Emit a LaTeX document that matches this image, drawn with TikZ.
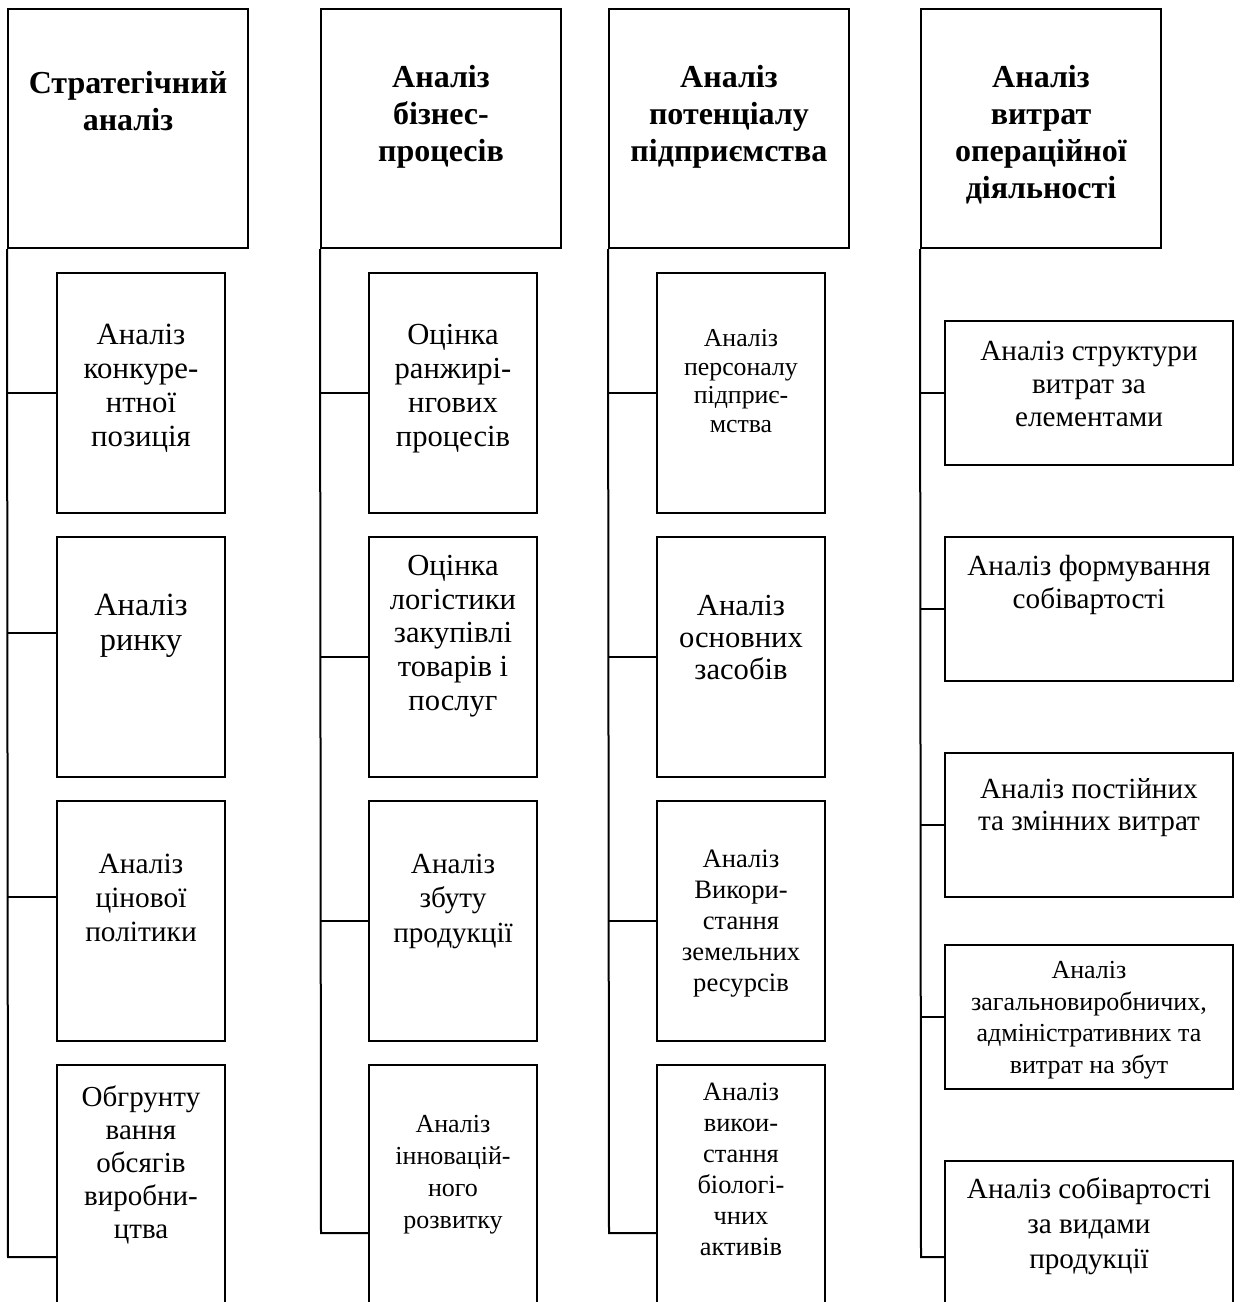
\documentclass[tikz,border=0pt]{standalone}
\usepackage{fontspec}
\setmainfont{Liberation Serif}

\tikzset{every picture/.style={line width=1pt}}
\tikzset{
  headbox/.style={draw, inner sep=0pt, minimum width=120pt, minimum height=119.5pt},
  subbox/.style={draw, inner sep=0pt, minimum width=84pt, minimum height=120pt},
  widebox/.style={draw, inner sep=0pt, minimum width=144pt, minimum height=72pt},
  lbl/.style={anchor=base, align=center, inner sep=0pt},
  headfont/.style={font=\fontsize{16}{18.5}\selectfont\bfseries},
}

\begin{document}
\begin{tikzpicture}[x=0.5pt,y=0.5pt,yscale=-1,xscale=1]
\useasboundingbox (0,0) rectangle (1240,1302);
\clip (0,0) rectangle (1240,1302);

%Shape: Rectangle [head boxes]
\node [headbox] (h1) at (128,128.5) {};
\node [headbox] (h2) at (441,128.5) {};
\node [headbox] (h3) at (729,128.5) {};
\node [headbox] (h4) at (1041,128.5) {};

%Shape: Rectangle [column 1]
\node [subbox] (b11) at (141,393) {};
\node [subbox] (b12) at (141,657) {};
\node [subbox] (b13) at (141,921) {};
\node [subbox] (b14) at (141,1185) {};
%Shape: Rectangle [column 2]
\node [subbox] (b21) at (453,393) {};
\node [subbox] (b22) at (453,657) {};
\node [subbox] (b23) at (453,921) {};
\node [subbox] (b24) at (453,1185) {};
%Shape: Rectangle [column 3]
\node [subbox] (b31) at (741,393) {};
\node [subbox] (b32) at (741,657) {};
\node [subbox] (b33) at (741,921) {};
\node [subbox] (b34) at (741,1185) {};
%Shape: Rectangle [column 4]
\node [widebox] (b41) at (1089,393) {};
\node [widebox] (b42) at (1089,609) {};
\node [widebox] (b43) at (1089,825) {};
\node [widebox] (b44) at (1089,1017) {};
\node [widebox] (b45) at (1089,1233) {};

%Straight Lines [column 1]
\coordinate (k11) at (8,393);
\coordinate (k12) at (8,633);
\coordinate (k13) at (8,897);
\coordinate (k14) at (8,1257);
\draw (h1.south west) -- (k14) -- (k14 -| b14.west) ;
\draw (k11) -- (k11 -| b11.west) ;
\draw (k12) -- (k12 -| b12.west) ;
\draw (k13) -- (k13 -| b13.west) ;
%Straight Lines [column 2]
\coordinate (k21) at (321,393);
\coordinate (k22) at (321,657);
\coordinate (k23) at (321,921);
\coordinate (k24) at (321,1233);
\draw (h2.south west) -- (k24) -- (k24 -| b24.west) ;
\draw (k21) -- (k21 -| b21.west) ;
\draw (k22) -- (k22 -| b22.west) ;
\draw (k23) -- (k23 -| b23.west) ;
%Straight Lines [column 3]
\coordinate (k31) at (609,393);
\coordinate (k32) at (609,657);
\coordinate (k33) at (609,921);
\coordinate (k34) at (609,1233);
\draw (h3.south west) -- (k34) -- (k34 -| b34.west) ;
\draw (k31) -- (k31 -| b31.west) ;
\draw (k32) -- (k32 -| b32.west) ;
\draw (k33) -- (k33 -| b33.west) ;
%Straight Lines [column 4]
\coordinate (k41) at (921,393);
\coordinate (k42) at (921,609);
\coordinate (k43) at (921,825);
\coordinate (k44) at (921,1017);
\coordinate (k45) at (921,1257);
\draw (h4.south west) -- (k45) -- (k45 -| b45.west) ;
\draw (k41) -- (k41 -| b41.west) ;
\draw (k42) -- (k42 -| b42.west) ;
\draw (k43) -- (k43 -| b43.west) ;
\draw (k44) -- (k44 -| b44.west) ;

% Text Node (anchored at the baseline of the last line)
\node [lbl, headfont] (t1) at (128,130) {Стратегічний\\аналіз};
% Text Node
\node [lbl, headfont] (t2) at (441,161) {Аналіз\\бізнес-\\процесів};
% Text Node
\node [lbl, headfont] (t3) at (729,161) {Аналіз\\потенціалу\\підприємства};
% Text Node
\node [lbl, headfont] (t4) at (1041,198) {Аналіз\\витрат\\операційної\\діяльності};

% Text Node
\node [lbl, font=\fontsize{15.4}{16.9}\selectfont] (t11) at (141,446) {Аналіз\\конкуре-\\нтної\\позиція};
% Text Node
\node [lbl, font=\fontsize{16.2}{17.5}\selectfont] (t12) at (141,650) {Аналіз\\ринку};
% Text Node
\node [lbl, font=\fontsize{14.7}{17}\selectfont] (t13) at (141,941) {Аналіз\\цінової\\політики};
% Text Node
\node [lbl, font=\fontsize{14.5}{16.5}\selectfont] (t14) at (141,1238) {Обгрунту\\вання\\обсягів\\виробни-\\цтва};

% Text Node
\node [lbl, font=\fontsize{15.3}{16.9}\selectfont] (t21) at (453,446) {Оцінка\\ранжирі-\\нгових\\процесів};
% Text Node
\node [lbl, font=\fontsize{15.3}{16.8}\selectfont] (t22) at (453,710) {Оцінка\\логістики\\закупівлі\\товарів і\\послуг};
% Text Node
\node [lbl, font=\fontsize{14.6}{17.25}\selectfont] (t23) at (453,942) {Аналіз\\збуту\\продукції};
% Text Node
\node [lbl, font=\fontsize{13}{16}\selectfont] (t24) at (453,1228) {Аналіз\\інновацій-\\ного\\розвитку};

% Text Node
\node [lbl, font=\fontsize{12.9}{14.2}\selectfont] (t31) at (741,432) {Аналіз\\персоналу\\підприє-\\мства};
% Text Node
\node [lbl, font=\fontsize{15.3}{16}\selectfont] (t32) at (741,679) {Аналіз\\основних\\засобів};
% Text Node
\node [lbl, font=\fontsize{13.3}{15.5}\selectfont] (t33) at (741,991) {Аналіз\\Викори-\\стання\\земельних\\ресурсів};
% Text Node
\node [lbl, font=\fontsize{13.2}{15.5}\selectfont] (t34) at (741,1255) {Аналіз\\викои-\\стання\\біологі-\\чних\\активів};

% Text Node
\node [lbl, font=\fontsize{14.6}{16.5}\selectfont] (t41) at (1089,426) {Аналіз структури\\витрат за\\елементами};
% Text Node
\node [lbl, font=\fontsize{14.6}{16.5}\selectfont] (t42) at (1089,608) {Аналіз формування\\собівартості};
% Text Node
\node [lbl, font=\fontsize{14.6}{16}\selectfont] (t43) at (1089,830) {Аналіз постійних\\та змінних витрат};
% Text Node
\node [lbl, font=\fontsize{13}{15.75}\selectfont] (t44) at (1089,1073) {Аналіз\\загальновиробничих,\\адміністративних та\\витрат на збут};
% Text Node
\node [lbl, font=\fontsize{14.6}{17.5}\selectfont] (t45) at (1089,1268) {Аналіз собівартості\\за видами\\продукції};

\end{tikzpicture}
\end{document}
